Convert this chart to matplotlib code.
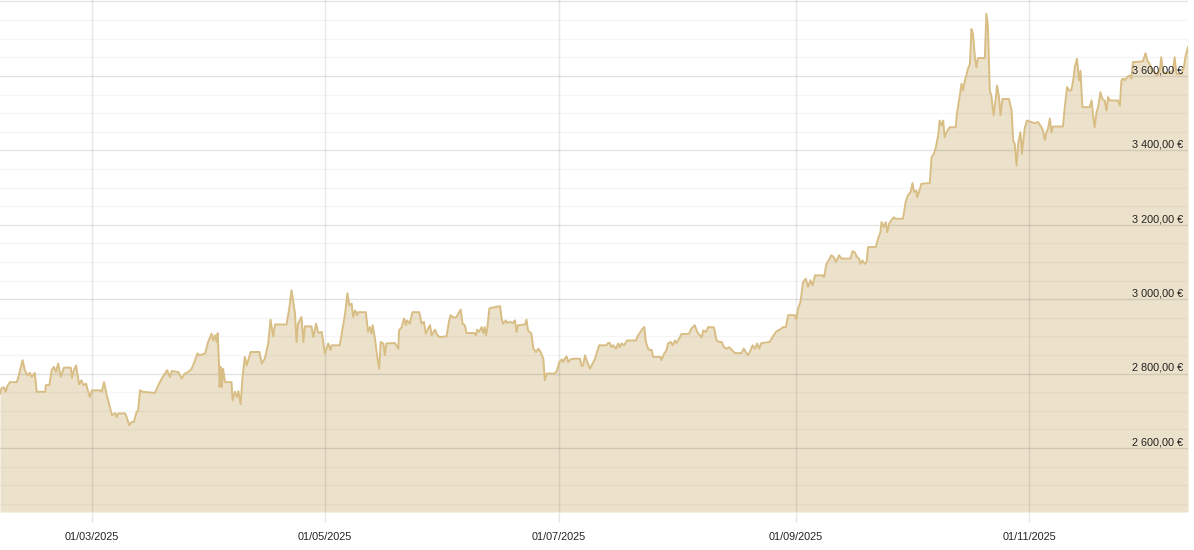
import numpy as np
import pandas as pd
import matplotlib
matplotlib.use("Agg")
import matplotlib.pyplot as plt
import matplotlib.dates as mdates
import matplotlib.transforms as mtransforms

# --- data: gold price in EUR ---
start_date = "2025-02-05"
# days since start_date
days = [
    0.0, 0.4, 1.0, 1.5, 1.9, 2.6, 4.4, 4.8, 5.9, 6.5, 7.2, 7.8, 8.3, 9.1, 9.6, 11.8,
    12.0, 12.9, 13.5, 14.1, 14.6, 15.2, 15.9, 16.7, 18.5, 18.8, 19.3, 19.9, 20.3, 20.7,
    21.3, 21.8, 22.5, 22.8, 23.5, 24.0, 26.1, 26.6, 27.2, 27.9, 28.7, 29.3, 30.1, 30.5,
    30.9, 32.7, 33.1, 33.8, 34.4, 35.0, 35.7, 36.1, 36.6, 37.3, 40.5, 41.4, 42.3, 43.1,
    43.7, 44.4, 44.9, 46.6, 47.5, 48.3, 49.2, 50.1, 51.0, 51.6, 52.1, 53.6, 54.4, 55.3,
    55.7, 56.2, 56.6, 56.9, 57.2, 57.4, 57.7, 58.0, 58.3, 58.8, 60.5, 60.8, 61.4, 61.9,
    62.3, 62.9, 63.4, 64.0, 64.5, 64.9, 65.5, 67.8, 68.4, 69.2, 70.1, 70.7, 71.4, 71.9,
    74.9, 75.6, 76.2, 76.6, 77.1, 77.5, 77.9, 78.8, 79.3, 79.7, 81.4, 81.9, 82.6, 83.2,
    84.1, 84.9, 85.8, 86.4, 86.7, 88.8, 89.6, 90.2, 90.8, 91.3, 91.9, 92.3, 92.8, 93.4,
    93.6, 95.6, 96.2, 96.7, 97.1, 97.4, 98.0, 98.6, 99.1, 99.5, 100.2, 100.6, 101.0, 103.2,
    104.1, 104.3, 105.0, 105.6, 106.1, 106.4, 107.1, 107.8, 109.6, 110.2, 110.8, 111.3,
    111.9, 112.4, 112.8, 113.7, 114.1, 114.8, 116.7, 117.4, 117.8, 118.5, 119.3, 119.8,
    120.4, 120.9, 121.5, 121.9, 123.9, 124.4, 124.7, 125.2, 125.9, 126.3, 126.7, 127.0,
    127.3, 127.9, 128.5, 130.7, 131.1, 131.5, 132.2, 132.6, 133.3, 134.1, 134.6, 135.0,
    135.4, 137.2, 137.6, 138.0, 138.9, 139.4, 140.1, 140.7, 141.3, 142.0, 142.4, 142.9,
    145.0, 145.6, 146.2, 146.8, 147.2, 147.6, 148.1, 148.5, 149.1, 149.8, 151.6, 152.0,
    152.4, 152.9, 153.5, 154.2, 154.9, 155.5, 156.6, 158.5, 158.9, 159.4, 159.8, 160.3,
    161.0, 161.6, 162.0, 162.5, 163.1, 163.9, 166.2, 166.8, 167.4, 168.0, 168.4, 168.8,
    169.4, 169.8, 170.3, 170.7, 172.6, 172.9, 173.5, 174.2, 174.6, 175.3, 175.8, 176.4,
    176.8, 177.5, 178.1, 180.1, 180.7, 181.6, 182.2, 182.9, 183.4, 183.8, 184.5, 185.1,
    186.6, 187.3, 188.0, 188.6, 189.2, 189.9, 190.6, 191.5, 192.1, 193.8, 194.4, 194.9,
    195.5, 196.2, 196.7, 197.3, 197.9, 198.4, 199.0, 201.2, 201.9, 202.8, 203.4, 203.8,
    204.7, 205.4, 206.0, 207.7, 208.1, 208.6, 209.2, 209.9, 210.6, 211.2, 211.8, 212.4,
    213.0, 215.0, 215.4, 216.0, 216.7, 217.3, 217.9, 218.5, 219.3, 219.9, 222.3, 222.8,
    223.4, 224.0, 224.5, 224.9, 225.4, 226.0, 226.5, 226.9, 228.9, 229.5, 230.1, 230.4,
    231.0, 231.5, 231.9, 232.4, 233.0, 233.6, 234.1, 236.0, 236.7, 237.3, 238.0, 238.5,
    238.9, 239.5, 239.7, 240.2, 240.8, 243.0, 243.5, 244.1, 244.6, 245.2, 245.6, 246.1,
    246.5, 246.9, 247.4, 248.2, 249.8, 250.1, 250.8, 251.3, 251.7, 252.2, 253.0, 253.5,
    253.9, 254.3, 254.8, 255.2, 255.6, 257.4, 257.8, 258.2, 258.7, 259.1, 259.7, 260.3,
    260.6, 261.1, 261.5, 262.0, 263.7, 264.4, 264.8, 265.2, 265.7, 266.1, 266.7, 267.1,
    267.8, 268.4, 270.4, 271.3, 272.2, 272.6, 273.1, 273.5, 273.9, 274.4, 274.8, 275.2,
    277.8, 278.3, 278.9, 279.4, 280.0, 280.5, 280.9, 281.5, 282.0, 282.4, 282.9, 284.8,
    285.3, 285.7, 286.1, 286.6, 287.0, 287.6, 288.1, 288.7, 289.2, 289.6, 290.1, 292.2,
    292.7, 293.1, 293.5, 294.0, 294.6, 295.3, 295.7, 296.1, 298.7, 299.4, 299.9, 300.5,
    301.2, 301.8, 302.4, 303.1, 303.5, 304.0, 305.3, 305.9, 306.6, 307.0, 307.5, 308.8,
    309.4, 309.9, 310.5,
]
# price in EUR
prices = [
    2746, 2761, 2763, 2751, 2766, 2777, 2777, 2791, 2836, 2809, 2795, 2802, 2791, 2802, 2751, 2751,
    2769, 2769, 2809, 2818, 2804, 2827, 2791, 2816, 2816, 2789, 2809, 2822, 2795, 2771,
    2782, 2769, 2773, 2760, 2737, 2755, 2755, 2751, 2777, 2742, 2710, 2688, 2694, 2683,
    2693, 2693, 2683, 2661, 2670, 2670, 2697, 2701, 2755, 2751, 2748, 2769, 2787, 2800,
    2809, 2791, 2807, 2804, 2787, 2800, 2804, 2813, 2836, 2854, 2849, 2854, 2885, 2907,
    2889, 2903, 2885, 2909, 2836, 2764, 2818, 2764, 2813, 2777, 2777, 2728, 2751, 2737,
    2753, 2718, 2791, 2845, 2822, 2836, 2858, 2858, 2827, 2840, 2881, 2945, 2900, 2932,
    2932, 2975, 3024, 2997, 2961, 2885, 2934, 2952, 2885, 2927, 2927, 2898, 2934, 2909,
    2912, 2854, 2881, 2863, 2876, 2876, 2925, 2961, 3016, 2983, 2988, 2952, 2970, 2957,
    2965, 2965, 2912, 2925, 2907, 2930, 2894, 2845, 2813, 2885, 2881, 2849, 2881, 2882,
    2867, 2916, 2925, 2948, 2930, 2943, 2934, 2965, 2965, 2934, 2939, 2907,
    2921, 2930, 2903, 2918, 2907, 2898, 2900, 2943, 2957, 2950, 2952, 2961,
    2972, 2934, 2930, 2909, 2909, 2903, 2918, 2912, 2925, 2909, 2925, 2903,
    2916, 2975, 2977, 2981, 2948, 2934, 2943, 2936, 2939, 2936, 2943, 2912,
    2930, 2932, 2945, 2916, 2907, 2867, 2858, 2867, 2858, 2840, 2782, 2800,
    2800, 2809, 2831, 2838, 2831, 2840, 2846, 2831, 2838, 2840, 2840, 2820,
    2822, 2849, 2831, 2813, 2827, 2840, 2876, 2876, 2882, 2882, 2871, 2876,
    2867, 2881, 2871, 2881, 2876, 2889, 2889, 2903, 2912, 2921, 2925, 2885,
    2867, 2863, 2864, 2845, 2845, 2836, 2852, 2863, 2881, 2885, 2876, 2889,
    2882, 2894, 2906, 2907, 2921, 2930, 2912, 2903, 2897, 2916, 2912, 2925,
    2924, 2889, 2885, 2885, 2871, 2867, 2871, 2861, 2855, 2855, 2867, 2858,
    2849, 2863, 2876, 2867, 2881, 2867, 2882, 2885, 2898, 2912, 2916, 2918,
    2925, 2925, 2957, 2957, 2946, 2975, 2992, 3046, 3055, 3033, 3051, 3037,
    3064, 3064, 3059, 3095, 3106, 3118, 3113, 3100, 3118, 3109, 3109, 3129,
    3126, 3113, 3109, 3095, 3104, 3095, 3100, 3140, 3140, 3162, 3180, 3207,
    3194, 3207, 3180, 3203, 3212, 3220, 3216, 3216, 3261, 3279, 3288, 3312,
    3288, 3292, 3274, 3288, 3310, 3312, 3382, 3391, 3408, 3440, 3480, 3467,
    3480, 3435, 3449, 3462, 3462, 3498, 3543, 3579, 3561, 3588, 3619, 3632,
    3726, 3713, 3650, 3623, 3648, 3648, 3767, 3735, 3561, 3547, 3494, 3543,
    3574, 3543, 3494, 3538, 3538, 3507, 3426, 3418, 3359, 3418, 3449, 3391,
    3458, 3480, 3473, 3476, 3462, 3453, 3428, 3449, 3458, 3485, 3449, 3464,
    3464, 3516, 3570, 3561, 3561, 3588, 3623, 3646, 3588, 3614, 3516, 3516,
    3534, 3494, 3462, 3503, 3516, 3556, 3538, 3534, 3507, 3543, 3534, 3534,
    3520, 3588, 3593, 3588, 3597, 3601, 3593, 3637, 3639, 3661, 3641, 3632,
    3614, 3610, 3601, 3614, 3650, 3610, 3607, 3610, 3614, 3650, 3605, 3605,
    3623, 3655, 3677,
]

x_ticks = ["2025-03-01", "2025-05-01", "2025-07-01", "2025-09-01", "2025-11-01"]
y_labels = [2600, 2800, 3000, 3200, 3400, 3600]
y_limits = (2428, 3804)

LINE = "#d8bd84"
FILL = "#ece2cb"
TEXT = "#222222"

dates = pd.Timestamp(start_date) + pd.to_timedelta(days, unit="D")

fig = plt.figure(figsize=(11.94, 5.5), dpi=100)
ax = fig.add_axes([0, 38 / 550, 1188 / 1194, 512 / 550])

ax.fill_between(dates, prices, y_limits[0], color=FILL, lw=0, zorder=1)
ax.plot(dates, prices, color=LINE, lw=1.4, zorder=4, solid_joinstyle="round")

# horizontal grid: minor every 50, major every 200
for v in range(2450, 3801, 50):
    if v % 200 == 0:
        ax.axhline(v, color="black", alpha=0.11, lw=1.0, zorder=2)
    else:
        ax.axhline(v, color="black", alpha=0.035, lw=1.0, zorder=2)

tick_dates = pd.to_datetime(x_ticks)
for d in tick_dates:
    ax.axvline(d, color="black", alpha=0.09, lw=1.0, zorder=2)

ax.set_xlim(dates[0], dates[-1])
ax.set_ylim(*y_limits)

ax.set_xticks(tick_dates)
ax.xaxis.set_major_formatter(mdates.DateFormatter("%d/%m/%Y"))
ax.tick_params(axis="x", length=7.5, width=1.0, color="#e6e6e6", pad=7,
               labelsize=7.8, labelcolor=TEXT)
for lbl in ax.get_xticklabels():
    lbl.set_fontfamily("Liberation Sans")
ax.set_yticks([])
for s in ax.spines.values():
    s.set_visible(False)

# y labels inside the plot on the right, just above their grid line
trans = mtransforms.blended_transform_factory(ax.transAxes, ax.transData)
off = mtransforms.offset_copy(trans, fig=fig, x=0, y=0.5, units="points")
for v in y_labels:
    s = f"{v:,.2f}".replace(",", " ").replace(".", ",") + " €"
    ax.text(1183 / 1188, v, s, transform=off, ha="right", va="bottom",
            fontsize=7.8, color=TEXT, family="Liberation Sans", zorder=5)

fig.savefig("out.png", dpi=100)
